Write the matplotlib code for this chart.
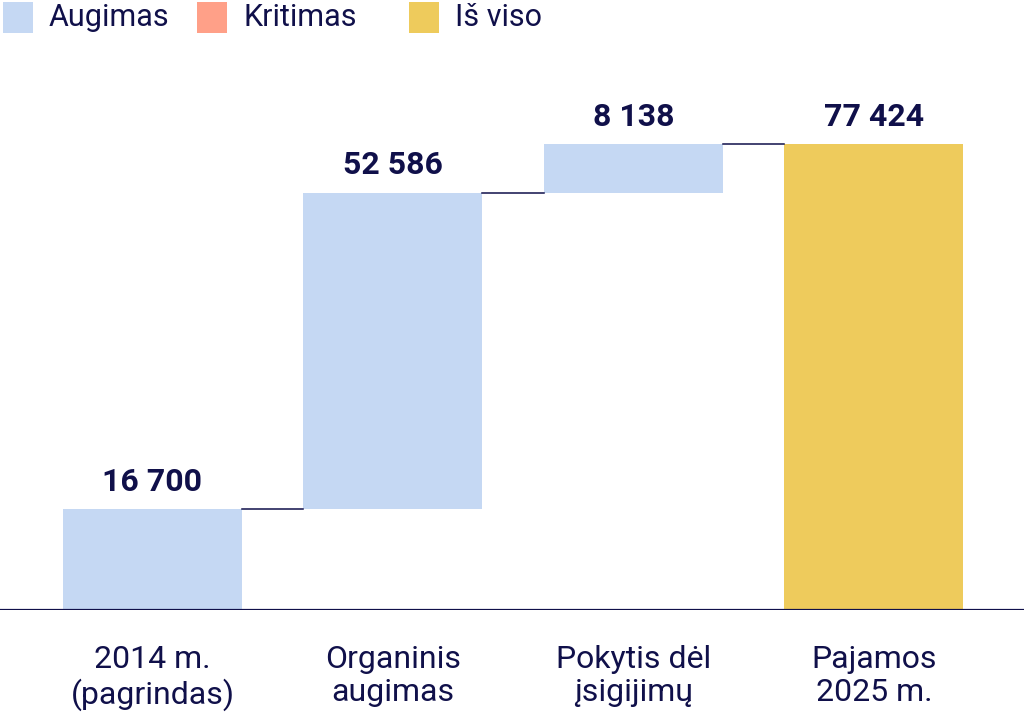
import matplotlib
matplotlib.use("Agg")
import matplotlib.pyplot as plt
from matplotlib.patches import Rectangle

categories = ["2014 m.\n(pagrindas)", "Organinis\naugimas", "Pokytis dėl\nįsigijimų", "Pajamos\n2025 m."]
values = [16700, 52586, 8138, 77424]
kinds = ["up", "up", "up", "total"]
value_labels = ["16 700", "52 586", "8 138", "77 424"]
legend_labels = ["Augimas", "Kritimas", "Iš viso"]

colors = {"up": "#c5d8f3", "down": "#ffa088", "total": "#eecb5c"}
navy = "#10104a"

plt.rcParams["font.family"] = ["Roboto", "DejaVu Sans"]

W, H = 1024, 713
fig = plt.figure(figsize=(W / 100, H / 100), dpi=100)
ax = fig.add_axes([0, 103 / H, 1, 610 / H])

width = 0.744
bottoms = []
running = 0
for v, k in zip(values, kinds):
    if k == "total":
        bottoms.append(0)
        running = v
    else:
        bottoms.append(running)
        running += v

x = list(range(len(values)))
ax.bar(x, values, width=width, bottom=bottoms,
       color=[colors[k] for k in kinds], linewidth=0)

# connectors
for i in range(len(values) - 1):
    top = bottoms[i] + values[i]
    ax.plot([i + width / 2, i + 1 - width / 2], [top, top], color=navy, lw=1.1)

for i, (v, b, lab) in enumerate(zip(values, bottoms, value_labels)):
    ax.annotate(lab, (i, b + v), xytext=(0, 9), textcoords="offset points",
                ha="center", va="bottom", fontsize=23, fontweight="bold", color=navy)

ax.axhline(0, color=navy, lw=1.6)
ax.set_xlim(-0.634, 3.624)
ax.set_ylim(0, 101350)
ax.set_xticks(x)
ax.set_xticklabels(categories, fontsize=23, color=navy, linespacing=1.18)
ax.tick_params(axis="x", length=0, pad=25)
ax.set_yticks([])
for s in ax.spines.values():
    s.set_visible(False)

# legend drawn by hand (pixel layout of the reference)
legend_colors = [colors["up"], colors["down"], colors["total"]]
legend_x = [3, 197, 409]
for lx, c, lab in zip(legend_x, legend_colors, legend_labels):
    fig.add_artist(Rectangle((lx / W, 1 - 33 / H), 30 / W, 31 / H,
                             transform=fig.transFigure, color=c, lw=0))
    fig.text((lx + 46) / W, 1 - 17 / H, lab, fontsize=22, color=navy,
             ha="left", va="center")

fig.savefig("out.png", dpi=100)
